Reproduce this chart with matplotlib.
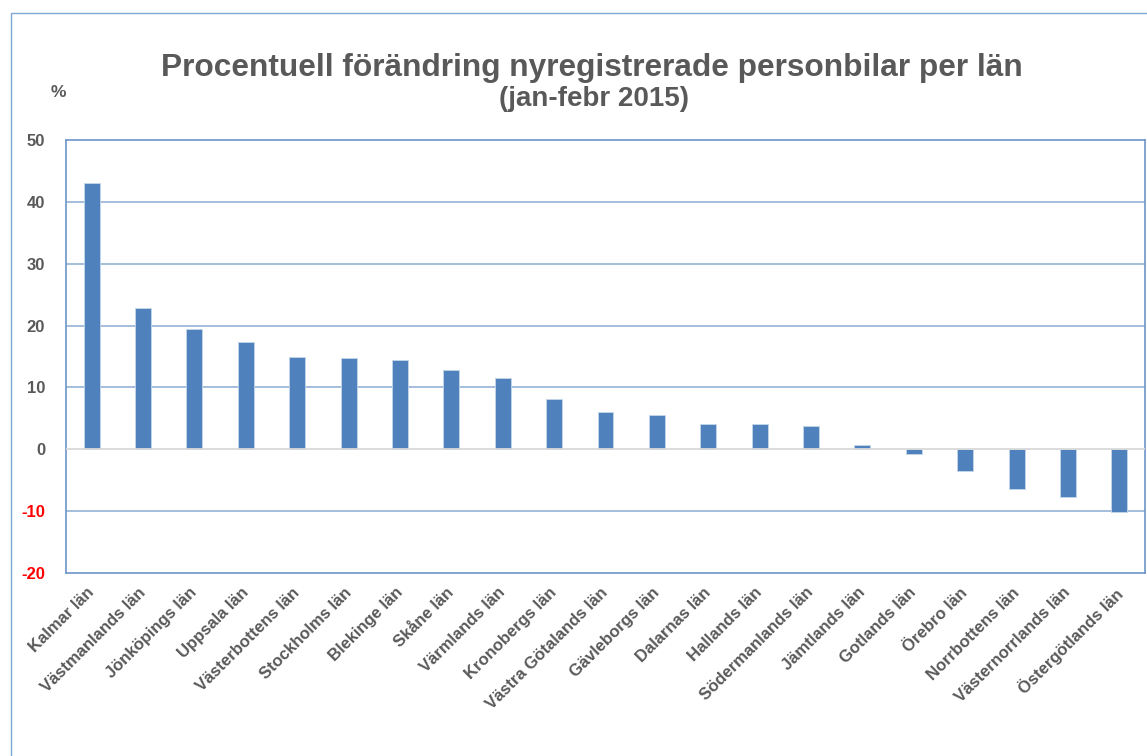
import matplotlib
matplotlib.use("Agg")
import matplotlib.pyplot as plt
from matplotlib.patches import Rectangle
import matplotlib.transforms as mtransforms

categories = ["Kalmar län", "Västmanlands län", "Jönköpings län", "Uppsala län",
              "Västerbottens län", "Stockholms län", "Blekinge län", "Skåne län",
              "Värmlands län", "Kronobergs län", "Västra Götalands län",
              "Gävleborgs län", "Dalarnas län", "Hallands län", "Södermanlands län",
              "Jämtlands län", "Gotlands län", "Örebro län", "Norrbottens län",
              "Västernorrlands län", "Östergötlands län"]
values = [43.0, 22.9, 19.5, 17.3, 14.9, 14.7, 14.5, 12.8, 11.6, 8.1, 6.0,
          5.6, 4.1, 4.1, 3.8, 0.7, -0.7, -3.5, -6.5, -7.7, -10.1]
yticks = [-20, -10, 0, 10, 20, 30, 40, 50]

title = "Procentuell förändring nyregistrerade personbilar per län"
subtitle = "(jan-febr 2015)"

plt.rcParams['font.family'] = ['Liberation Sans', 'DejaVu Sans']
GRAY = '#595959'
BLUE = '#4F81BD'
GRID = '#95B3D7'

fig = plt.figure(figsize=(11.47, 7.56), dpi=100)
fig.patches.append(Rectangle((11/1147, -0.5), 2, 0.5 + (756-13)/756,
                             transform=fig.transFigure, fill=False,
                             edgecolor='#7FA6D6', linewidth=1.0))

ax = fig.add_axes([66/1147, (756-573)/756, (1145-66)/1147, (573-140)/756])
x = list(range(len(categories)))
ax.bar(x, values, width=0.31, color=BLUE, edgecolor='#C6D6EA', linewidth=0.6, zorder=3)
ax.set_xlim(-0.5, len(categories) - 0.5)
ax.set_ylim(-20, 50)
ax.set_yticks(yticks)
ax.set_yticklabels([str(v) for v in yticks])
for lab, v in zip(ax.get_yticklabels(), yticks):
    lab.set_color('#FF0000' if v < 0 else GRAY)
    lab.set_fontweight('bold')
    lab.set_fontsize(12)
for v in yticks:
    if v == 0:
        ax.axhline(v, color='#D9D9D9', linewidth=1.3, zorder=4)
    elif v not in (-20, 50):
        ax.axhline(v, color=GRID, linewidth=1.2, zorder=1)
for s in ax.spines.values():
    s.set_color('#6C95C8')
    s.set_linewidth(1.2)
ax.tick_params(axis='y', length=0, pad=15)
ax.tick_params(axis='x', length=0, pad=0)
ax.set_xticks(x)
ax.set_xticklabels(categories, rotation=45, ha='right', va='top',
                   rotation_mode='anchor', fontsize=12, fontweight='bold', color=GRAY)
offset = mtransforms.ScaledTranslation(-5/100, -12/100, fig.dpi_scale_trans)
for lab in ax.get_xticklabels():
    lab.set_transform(lab.get_transform() + offset)

fig.text(592/1147, (756-75.7)/756, title, ha='center', va='baseline',
         fontsize=22.8, fontweight='bold', color=GRAY)
fig.text(594/1147, (756-106)/756, subtitle, ha='center', va='baseline',
         fontsize=20, fontweight='bold', color=GRAY)
fig.text(58/1147, (756-97)/756, "%", ha='center', va='baseline',
         fontsize=12.5, fontweight='bold', color=GRAY)

fig.savefig("out.png", dpi=100)
